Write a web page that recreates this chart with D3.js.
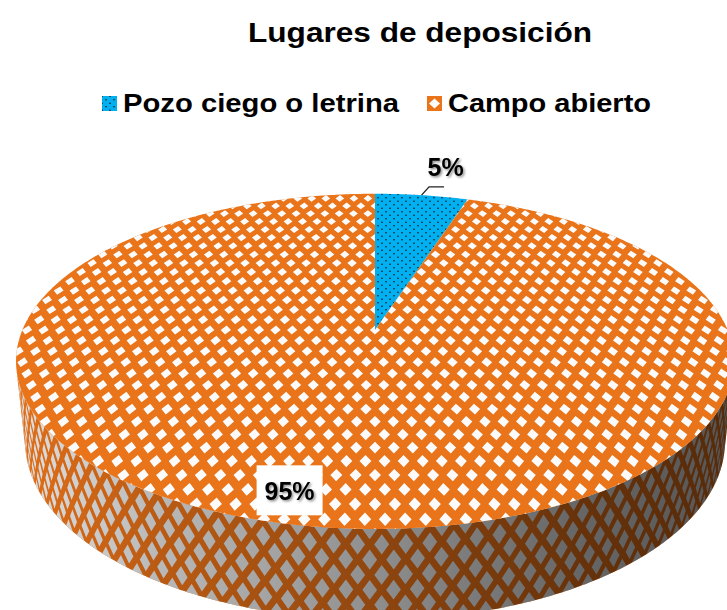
<!DOCTYPE html>
<html><head><meta charset="utf-8">
<script src="https://cdn.jsdelivr.net/npm/d3@7"></script>
<style>body{margin:0;background:#fff}svg{display:block}</style>
</head><body><svg id="c" width="727" height="610"></svg>
<script>
const title = "Lugares de deposición";
const categories = ["Pozo ciego o letrina", "Campo abierto"];
const values = [5, 95];
const labelTexts = ["5%", "95%"];

const FONT = "'Liberation Sans', Arial, Helvetica, sans-serif";
const svg = d3.select("#c");
const defs = svg.append("defs");

// perspective projection of the 3D pie
const CX = 375, CY = 330, K = 1675, DIST = 4.75, PHI = 27.3 * Math.PI / 180, THICK = 0.259;
const sP = Math.sin(PHI), cP = Math.cos(PHI);
function proj(x, y, z) {
  const vy = y - DIST * sP, vz = z - DIST * cP;
  const depth = -vy * sP - vz * cP;
  const sy = vy * cP - vz * sP;
  return [CX + K * x / depth, CY - K * sy / depth];
}
const rScale = d3.scaleLinear().domain([0, 1]).range([0, 1]);
function disk(r, a, y = 0) { const rr = rScale(r); return proj(rr * Math.sin(a), y, -rr * Math.cos(a)); }
const line = d3.line();

const pie = d3.pie().sort(null).value(d => d)(values);

// styles
const topBase = ["#00B0F0", "#E97419"];
const sideBase = ["#00A0DC", "#E36F18"];

// blue dotted pattern
const pat = defs.append("pattern").attr("id", "dots").attr("patternUnits", "userSpaceOnUse")
  .attr("width", 8).attr("height", 7);
pat.append("rect").attr("width", 8).attr("height", 7).attr("fill", "#00B0F0");
pat.append("circle").attr("cx", 2).attr("cy", 1.75).attr("r", 0.8).attr("fill", "#111");
pat.append("circle").attr("cx", 6).attr("cy", 5.25).attr("r", 0.8).attr("fill", "#111");

function arcPts(a0, a1, r, y) {
  const n = Math.max(2, Math.ceil((a1 - a0) / 0.01));
  return d3.range(n + 1).map(k => disk(r, a0 + (a1 - a0) * k / n, y));
}
function topPath(p) {
  return line([proj(0, 0, 0), ...arcPts(p.startAngle, p.endAngle, 1, 0)]) + "Z";
}

// visible side range
const zmin = 1 / (DIST * cP);
const tA = Math.acos(-zmin), tB = 2 * Math.PI - Math.acos(-zmin);

// side shading gradient
const grad = defs.append("linearGradient").attr("id", "shade").attr("gradientUnits", "userSpaceOnUse")
  .attr("x1", 12).attr("y1", 0).attr("x2", 727).attr("y2", 0);
[[0, 0.0], [0.2, 0.18], [0.4, 0.3], [0.6, 0.43], [0.8, 0.55], [1, 0.62]].forEach(([o, a]) =>
  grad.append("stop").attr("offset", o).attr("stop-color", "#000").attr("stop-opacity", a));

const gSide = svg.append("g");
const gTop = svg.append("g");

pie.forEach((p, i) => {
  // side
  const s0 = Math.max(p.startAngle, tA), s1 = Math.min(p.endAngle, tB);
  if (s1 > s0) {
    const sd = line([...arcPts(s0, s1, 1, 0), ...arcPts(s0, s1, 1, -THICK).reverse()]) + "Z";
    defs.append("clipPath").attr("id", "side" + i).append("path").attr("d", sd);
    gSide.append("path").attr("d", sd).attr("fill", sideBase[i]);
    if (i === 1) {
      const PT = 0.056, PY = 0.086, SA = 0.31, SB = 0.33;
      let dd = "";
      for (let t = s0 - PT; t <= s1 + PT; t += PT) {
        for (let j = -1; j * PY <= THICK + PY; j++) {
          for (const off of [0, 0.5]) {
            const th = t + off * PT, yy = -(j + off) * PY;
            const pts = [[th - SA * PT, yy], [th, yy - SB * PY], [th + SA * PT, yy], [th, yy + SB * PY]]
              .map(([a, y]) => proj(Math.sin(a), y, -Math.cos(a)));
            dd += "M" + pts.map(q => q[0].toFixed(1) + "," + q[1].toFixed(1)).join("L") + "Z";
          }
        }
      }
      gSide.append("path").attr("d", dd).attr("fill", "#E2E2E2").attr("clip-path", "url(#side" + i + ")");
    }
    gSide.append("path").attr("d", sd).attr("fill", "url(#shade)");
  }
  // top
  const tp = topPath(p);
  defs.append("clipPath").attr("id", "top" + i).append("path").attr("d", tp);
  if (i === 0) {
    gTop.append("path").attr("d", tp).attr("fill", "url(#dots)");
  } else {
    gTop.append("path").attr("d", tp).attr("fill", topBase[i]);
    const PX = 0.047, PZ = 0.128, DA = 0.31, DB = 0.22;
    let dd = "";
    for (let j = Math.floor(-1 / PZ) - 1; j <= Math.ceil(1 / PZ) + 1; j++) {
      for (let k = Math.floor(-1 / PX) - 1; k <= Math.ceil(1 / PX) + 1; k++) {
        for (const off of [0, 0.5]) {
          const x0 = (k + off) * PX, z0 = (j + off) * PZ;
          if (x0 * x0 + z0 * z0 > 1.12) continue;
          const pts = [[x0 - DA * PX, z0], [x0, z0 - DB * PZ], [x0 + DA * PX, z0], [x0, z0 + DB * PZ]]
            .map(([x, z]) => proj(x, 0, z));
          dd += "M" + pts.map(q => q[0].toFixed(1) + "," + q[1].toFixed(1)).join("L") + "Z";
        }
      }
    }
    gTop.append("path").attr("d", dd).attr("fill", "#FBFBFB").attr("clip-path", "url(#top" + i + ")");
  }
});

// text shadow filter
const f = defs.append("filter").attr("id", "tsh").attr("x", "-20%").attr("y", "-20%").attr("width", "150%").attr("height", "150%");
f.append("feDropShadow").attr("dx", 1.5).attr("dy", 1.5).attr("stdDeviation", 1.1)
  .attr("flood-color", "#000").attr("flood-opacity", 0.45);

// data labels
const gLab = svg.append("g");
pie.forEach((p, i) => {
  const mid = (p.startAngle + p.endAngle) / 2;
  if (p.endAngle - p.startAngle < 0.5) {
    const a = disk(1, mid);
    const e = [a[0] + 7.5, a[1] - 8.3];
    const e2 = [e[0] + 15, e[1]];
    gLab.append("path").attr("d", line([a, e, e2])).attr("fill", "none")
      .attr("stroke", "#222").attr("stroke-width", 1.3);
    gLab.append("text").attr("x", e2[0] + 1.5).attr("y", e2[1] - 11)
      .attr("text-anchor", "middle").attr("font-family", FONT).attr("font-weight", "bold")
      .attr("font-size", 25).attr("fill", "#000").attr("filter", "url(#tsh)").text(labelTexts[i]);
  } else {
    const c = disk(0.86, mid);
    const cx = c[0] - 29, cy = c[1] - 3;
    gLab.append("rect").attr("x", cx - 33).attr("y", cy - 25).attr("width", 66).attr("height", 50)
      .attr("fill", "#fff");
    gLab.append("text").attr("x", cx).attr("y", cy + 10)
      .attr("text-anchor", "middle").attr("font-family", FONT).attr("font-weight", "bold")
      .attr("font-size", 25).attr("fill", "#000").attr("filter", "url(#tsh)").text(labelTexts[i]);
  }
});

// title
svg.append("text").attr("x", 248).attr("y", 42).attr("font-family", FONT).attr("font-weight", "bold")
  .attr("font-size", 28).attr("fill", "#000").attr("textLength", 344).attr("lengthAdjust", "spacingAndGlyphs")
  .text(title);

// legend
const legX = [102, 427], legTextW = [276, 203];
const gLeg = svg.append("g");
categories.forEach((cat, i) => {
  const x = legX[i], y = 96;
  if (i === 0) {
    gLeg.append("rect").attr("x", x).attr("y", y).attr("width", 15).attr("height", 15).attr("fill", "url(#dots)");
  } else {
    gLeg.append("rect").attr("x", x).attr("y", y).attr("width", 15).attr("height", 15).attr("fill", topBase[1]);
    gLeg.append("path").attr("d", line([[x + 7.5, y + 2.5], [x + 13, y + 7.5], [x + 7.5, y + 12.5], [x + 2, y + 7.5]]) + "Z")
      .attr("fill", "#FBFBFB");
  }
  gLeg.append("text").attr("x", x + 21).attr("y", 112).attr("font-family", FONT).attr("font-weight", "bold")
    .attr("font-size", 26).attr("fill", "#000").attr("textLength", legTextW[i]).attr("lengthAdjust", "spacingAndGlyphs")
    .text(cat);
});
</script></body></html>
